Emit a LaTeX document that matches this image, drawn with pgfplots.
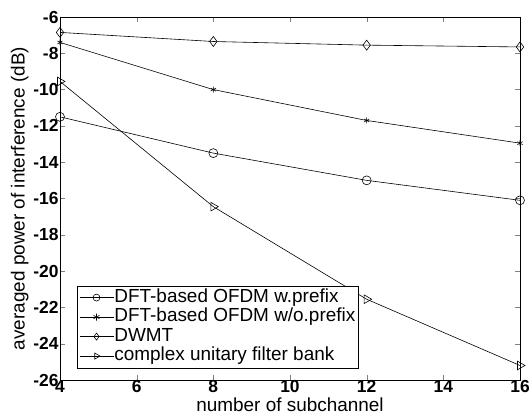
\documentclass[border=0pt]{standalone}
\usepackage{pgfplots}
\pgfplotsset{compat=1.18}
\usepackage{fontspec}
\setmainfont{Liberation Sans}
\begin{document}
\begin{tikzpicture}
\begin{axis}[
  name=ax,
  scale only axis,
  width=460bp, height=363bp,
  xmin=4, xmax=16, ymin=-26, ymax=-6,
  xtick={4,6,...,16}, ytick={-26,-24,...,-6},
  tick align=inside,
  tick pos=both,
  major tick length=5bp,
  /pgf/number format/assume math mode=true,
  tick label style={font=\fontsize{17.5}{18}\selectfont\bfseries},
  xticklabel style={yshift=3bp},
  yticklabel style={xshift=2bp},
  label style={font=\fontsize{19}{19}\selectfont},
  xlabel={number of subchannel},
  ylabel={averaged power of interference (dB)},
  xlabel style={at={(axis description cs:0.5,0)}, anchor=north, yshift=-14.5bp},
  ylabel style={yshift=-2bp},
  legend style={at={(0.037,0.033)}, anchor=south west, font=\fontsize{19}{19}\selectfont, draw=black, row sep=0pt, inner sep=2pt, nodes={inner sep=0.6pt, text height=14bp, text depth=4.3bp}, legend cell align=left},
  legend image code/.code={\draw[mark repeat=2,mark phase=2] plot coordinates {(0cm,0cm) (0.6cm,0cm) (1.2cm,0cm)};},
  every axis plot/.append style={black, line width=0.6pt},
  legend image post style={mark size=3.5pt},
]
\addplot[mark=o, mark size=4.5pt] coordinates {(4,-11.5) (8,-13.5) (12,-15.0) (16,-16.1)};
\addlegendentry{DFT-based OFDM w.prefix}
\addplot[mark=asterisk, mark size=3pt] coordinates {(4,-7.4) (8,-10.0) (12,-11.7) (16,-12.95)};
\addlegendentry{DFT-based OFDM w/o.prefix}
\addplot[mark=diamond, mark size=5pt] coordinates {(4,-6.85) (8,-7.35) (12,-7.55) (16,-7.65)};
\addlegendentry{DWMT}
\addplot[mark=triangle, mark options={rotate=-90}, mark size=5pt] coordinates {(4,-9.55) (8,-16.45) (12,-21.55) (16,-25.2)};
\addlegendentry{complex unitary filter bank}
\end{axis}
\pgfresetboundingbox
\path ([shift={(-60bp,-40bp)}]ax.south west) rectangle ([shift={(10bp,17bp)}]ax.north east);
\end{tikzpicture}
\end{document}
